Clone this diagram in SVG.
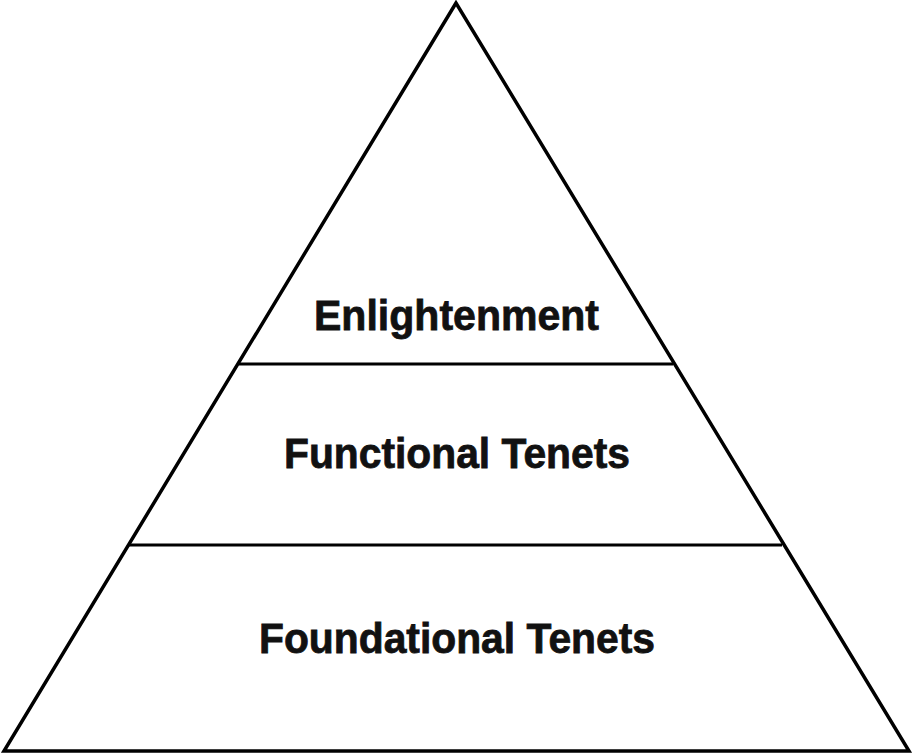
<svg xmlns="http://www.w3.org/2000/svg" width="913" height="754" viewBox="0 0 913 754">
  <style>
    .edge { fill: none; stroke: #000; stroke-width: 3.5; stroke-linejoin: miter; }
    .tier { fill: none; stroke: #000; stroke-width: 3; }
    .label { font-family: "Liberation Sans", Arial, sans-serif; font-weight: bold; font-size: 43px; fill: #111; stroke: #111; stroke-width: 0.8; }
  </style>
  <rect width="913" height="754" fill="#fff"/>
  <!-- pyramid outline -->
  <g id="pyramid">
    <polygon class="edge" points="456,3 4,751 909,751"/>
  </g>
  <!-- tier dividers -->
  <g id="connectors">
    <line class="tier" x1="239" y1="364" x2="673" y2="364"/>
    <line class="tier" x1="129" y1="545" x2="782" y2="545"/>
  </g>
  <g id="enlightenment">
    <text class="label" x="314" y="330" textLength="285" lengthAdjust="spacingAndGlyphs">Enlightenment</text>
  </g>
  <g id="functional-tenets">
    <text class="label" x="284" y="468" textLength="346" lengthAdjust="spacingAndGlyphs">Functional Tenets</text>
  </g>
  <g id="foundational-tenets">
    <text class="label" x="259" y="653" textLength="396" lengthAdjust="spacingAndGlyphs">Foundational Tenets</text>
  </g>
</svg>
